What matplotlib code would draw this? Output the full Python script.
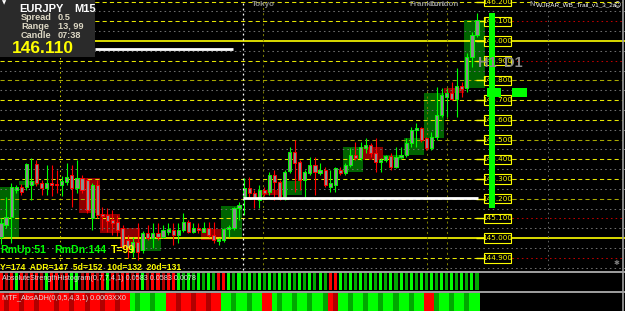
import matplotlib
matplotlib.use("Agg")
import matplotlib.pyplot as plt
from matplotlib.patches import Rectangle

# EURJPY M15 candles
opens = [145.005, 145.066, 145.107, 145.244, 145.259, 145.259, 145.269, 145.376, 145.279, 145.254,
         145.279, 145.274, 145.269, 145.284, 145.320, 145.254, 145.304, 145.294, 145.101, 145.269,
         145.122, 145.117, 145.091, 145.081,
         145.051, 144.990, 144.929, 144.980, 144.939, 145.025, 145.000, 145.025, 145.005, 145.030,
         145.040, 145.015, 145.040, 145.081, 145.030, 145.051, 145.030, 145.051, 145.015, 144.985,
         144.990, 145.045, 145.051, 145.152,
         145.208, 145.254, 145.228, 145.193, 145.244, 145.233, 145.320, 145.284, 145.208, 145.340,
         145.436, 145.386, 145.294, 145.330, 145.370, 145.330, 145.345, 145.259, 145.269, 145.345,
         145.330, 145.370, 145.421,
         145.406, 145.457, 145.472, 145.431, 145.386, 145.396, 145.416, 145.360, 145.411, 145.421,
         145.482, 145.548, 145.558, 145.508, 145.457, 145.513, 145.624, 145.716, 145.736, 145.705,
         145.771, 145.761, 145.919, 146.030]
closes = [145.076, 145.107, 145.259, 145.259, 145.233, 145.376, 145.289, 145.279, 145.254, 145.279,
          145.269, 145.269, 145.289, 145.310, 145.254, 145.304, 145.244, 145.142, 145.269, 145.117,
          145.112, 145.086, 145.076, 145.040,
          144.954, 144.949, 144.980, 144.929, 145.025, 145.000, 145.025, 145.005, 145.040, 145.045,
          145.015, 145.040, 145.081, 145.030, 145.051, 145.040, 145.051, 145.015, 144.990, 144.995,
          145.045, 145.056, 145.152, 145.167,
          145.254, 145.228, 145.208, 145.244, 145.228, 145.320, 145.284, 145.208, 145.335, 145.436,
          145.381, 145.294, 145.335, 145.370, 145.335, 145.345, 145.269, 145.279, 145.355, 145.330,
          145.370, 145.421, 145.406,
          145.462, 145.472, 145.431, 145.386, 145.396, 145.416, 145.360, 145.411, 145.421, 145.482,
          145.548, 145.558, 145.497, 145.457, 145.513, 145.624, 145.726, 145.736, 145.705, 145.771,
          145.756, 145.919, 146.030, 146.106]
highs = [145.101, 145.208, 145.279, 145.269, 145.274, 145.381, 145.406, 145.396, 145.294, 145.370,
         145.370, 145.345, 145.315, 145.381, 145.370, 145.396, 145.320, 145.304, 145.279, 145.294,
         145.157, 145.152, 145.142, 145.117,
         145.066, 145.015, 145.005, 145.076, 145.035, 145.066, 145.076, 145.076, 145.066, 145.076,
         145.076, 145.076, 145.127, 145.091, 145.076, 145.076, 145.081, 145.081, 145.081, 145.000,
         145.051, 145.066, 145.157, 145.183,
         145.304, 145.310, 145.244, 145.269, 145.259, 145.335, 145.345, 145.294, 145.345, 145.462,
         145.497, 145.396, 145.345, 145.411, 145.411, 145.381, 145.360, 145.345, 145.360, 145.360,
         145.381, 145.457, 145.487,
         145.487, 145.508, 145.482, 145.508, 145.406, 145.421, 145.431, 145.462, 145.462, 145.508,
         145.563, 145.584, 145.563, 145.513, 145.538, 145.766, 145.761, 145.761, 145.792, 145.863,
         145.792, 145.939, 146.046, 146.142]
lows = [144.969, 145.051, 144.975, 145.228, 145.218, 145.244, 145.193, 145.264, 145.218, 145.218,
        145.213, 145.228, 145.213, 145.269, 145.157, 145.228, 145.228, 145.127, 145.040, 145.101,
        145.040, 145.030, 145.015, 145.010,
        144.949, 144.898, 144.903, 144.888, 144.924, 144.990, 144.949, 144.990, 145.000, 145.015,
        144.964, 144.975, 145.030, 145.025, 145.025, 145.025, 145.030, 145.005, 144.975, 144.964,
        144.980, 145.005, 145.040, 145.091,
        145.117, 145.203, 145.152, 145.152, 145.213, 145.218, 145.193, 145.193, 145.193, 145.330,
        145.233, 145.244, 145.208, 145.320, 145.218, 145.320, 145.259, 145.233, 145.233, 145.320,
        145.320, 145.360, 145.396,
        145.396, 145.431, 145.411, 145.335, 145.335, 145.386, 145.345, 145.355, 145.406, 145.411,
        145.462, 145.462, 145.487, 145.447, 145.447, 145.497, 145.614, 145.614, 145.700, 145.614,
        145.716, 145.741, 145.868, 146.020]

# H1 boxes behind the candles: first M15 candle, open, close
box_start = [0, 4, 16, 20, 24, 28, 40, 44, 52, 56, 68, 72, 76, 80, 84, 88, 92]
box_open = [145.005, 145.269, 145.304, 145.122, 145.051, 144.934, 145.045, 145.005, 145.244,
            145.218, 145.335, 145.462, 145.396, 145.421, 145.508, 145.761, 145.761]
box_close = [145.259, 145.289, 145.127, 145.025, 144.949, 145.005, 144.990, 145.162, 145.218,
             145.289, 145.462, 145.396, 145.421, 145.508, 145.736, 145.736, 146.106]

# price levels
levels = [146.2, 146.1, 146.0, 145.9, 145.8, 145.7, 145.6, 145.5, 145.4, 145.3, 145.2, 145.1, 145.0, 144.9]
solid_levels = [146.0, 145.0]
olive_levels = [145.8, 145.5, 145.2]
red_levels = [146.1, 145.9, 145.1, 144.9]
half_levels = [146.15, 146.05, 145.95, 145.85, 145.75, 145.65, 145.55, 145.45, 145.35,
               145.25, 145.15, 145.05, 144.95, 144.85]

# white lines (candle index from, to, price)
wl_from = [18.6, 47.8]
wl_to = [45.8, 94.2]
wl_price = [145.960, 145.203]

# green range bar and blocks
bar_low, bar_high = 145.152, 146.142
block_low, block_high = 145.716, 145.761

# histogram colours per candle
hist1 = ("RrRGRrRRrG" "RRrRGGrRRr" "RGRrRRrRGr" "RRrRR"
         "GgGgGgGgRR" "GgGgGgGgGg" "GgGgGgGgGg" "RRGgGgGgGg" "GgGgGgGgGg" "GgGgGgGgGg")
hist2 = ("RrRRrRRrRRRrRRrRRrRRrRRrRR" "GgGGgGG" "RRrRRrRRrRR"
         "GGgGGgGG" "RR" "GgGGgGGgGGg" "Rr" "GGgGGgGGgGGgGGgGG" "RR" "gGGgGGgGG")
hcol = {"G": "#00ff00", "g": "#00a800", "R": "#ff0000", "r": "#b00000"}

W, H = 625, 311
PX = 5.064  # pixels per candle
X0 = 1.0


def px2i(x):
    return (x - X0) / PX


plt.rcParams['font.family'] = ['Liberation Sans', 'DejaVu Sans']
fig = plt.figure(figsize=(W / 100, H / 100), dpi=100, facecolor="black")

ax = fig.add_axes([0, (H - 270) / H, 1, 270 / H])
ax.set_xlim(px2i(0), px2i(W))
ax.set_ylim(144.838, 146.208)
ax.set_axis_off()

n = len(opens)
xs = list(range(n))

# H1 boxes
for s, o, c in zip(box_start, box_open, box_close):
    col = "#006400" if c >= o else "#8b0000"
    ax.add_patch(Rectangle((s - 0.5, min(o, c)), 4, abs(c - o), facecolor=col, edgecolor="none", zorder=1))

# grid levels
for lv in half_levels:
    ax.axhline(lv, color="#6e6e6e", lw=0.75, ls=(0, (1.5, 3)), zorder=2)
for lv in levels:
    if lv in solid_levels:
        ax.axhline(lv, color="#ffff00", lw=1.2, zorder=2)
    else:
        col = "#a8a800" if lv in olive_levels else "#e6e600"
        ax.hlines(lv, px2i(0), px2i(512), color=col, lw=0.75, ls=(0, (4, 3)), zorder=2)
        if lv in red_levels:
            ax.hlines(lv, px2i(512), px2i(622), color="#c00000", lw=0.75, ls=(0, (1.5, 3)), zorder=2)
        else:
            ax.hlines(lv, px2i(512), px2i(622), color=col, lw=0.75, ls=(0, (4, 3)), zorder=2)
    ax.hlines(lv, px2i(476), px2i(484), color="#ffff00", lw=1.0, zorder=2)

# session separators
ax.axvline(px2i(60), color="#c8c800", lw=0.75, ls=(0, (1.5, 3)), zorder=2)
for xv in [263, 427, 447]:
    ax.axvline(px2i(xv), color="#7a7a00", lw=0.75, ls=(0, (2, 3)), zorder=2)
ax.axvline(px2i(548), color="#606060", lw=0.75, ls=(0, (1.5, 3)), zorder=2)

# candles
for i in xs:
    o, h, l, c = opens[i], highs[i], lows[i], closes[i]
    col = "#00ff00" if c >= o else "#ff0000"
    ax.vlines(i, l, h, color=col, lw=0.8, zorder=3)
    body = max(abs(c - o), 0.004)
    ax.bar(i, body, bottom=min(o, c) - (body - abs(c - o)) / 2, width=0.62,
           color="#8c8c8c", edgecolor=col, linewidth=0.7, zorder=4)

# white lines
ax.hlines(wl_price, wl_from, wl_to, color="white", lw=2.0, zorder=5)

# price labels
for lv in levels:
    ax.add_patch(Rectangle((px2i(484), lv - 0.024), 27 / PX, 0.048, facecolor="black",
                           edgecolor="#ffff00", lw=0.8, zorder=6))
    ax.text(px2i(497.5), lv, f"{lv:.3f}", color="#ffff00", fontsize=5.2, ha="center",
            va="center", zorder=7, family="DejaVu Sans")

# green bar and blocks
ax.bar(px2i(492), bar_high - bar_low, bottom=bar_low, width=6 / PX, color="#00ff00", zorder=8)
ax.bar(px2i(494), block_high - block_low, bottom=block_low, width=14 / PX, color="#00ff00", zorder=8)
ax.bar(px2i(519.5), block_high - block_low, bottom=block_low, width=15 / PX, color="#00ff00", zorder=8)

# sub windows
a1 = fig.add_axes([0, (H - 290) / H, 1, 17 / H])
a2 = fig.add_axes([0, 0, 1, 18 / H])
for a, codes, wd in [(a1, hist1, 0.6), (a2, hist2, 1.0)]:
    a.set_xlim(px2i(0), px2i(W))
    a.set_ylim(0, 1)
    a.set_axis_off()
    a.bar(xs, [1] * n, width=wd, color=[hcol[k] for k in codes], linewidth=0)

# overlay in pixel units for texts and frames
ov = fig.add_axes([0, 0, 1, 1], zorder=10)
ov.set_xlim(0, W)
ov.set_ylim(H, 0)
ov.set_axis_off()

ov.axvline(243, ymin=(H - 270) / H, color="white", lw=0.9, ls=(0, (1.5, 2.5)))
ov.axhline(271.5, color="#a0a0a0", lw=1.4)
ov.axhline(291.6, color="#a0a0a0", lw=1.4)
ov.axvline(622.5, color="#a0a0a0", lw=1.2)

# info box
ov.add_patch(Rectangle((0, 0), 95, 57, facecolor="#2a2a2a", edgecolor="none"))
ov.text(1.5, 3, "▼", color="white", fontsize=4, va="center", family="DejaVu Sans")
ov.text(19, 8.5, "EURJPY", color="white", fontsize=8, weight="bold", va="center")
ov.text(74, 8.5, "M15", color="white", fontsize=8, weight="bold", va="center")
beige = "#ddd8c4"
for yy, lab, val in [(17.5, "Spread", "0.5"), (26.5, "Range", "13, 99"), (35.5, "Candle", "07:38")]:
    ov.text(21, yy, lab, color=beige, fontsize=6.6, weight="bold", va="center")
    ov.text(58, yy, val, color=beige, fontsize=6.6, weight="bold", va="center")
ov.text(12, 48.5, "146.110", color="#ffff00", fontsize=12.5, weight="bold", va="center")

# top labels
ov.text(252, 5, "Tokyo", color="#8a8a8a", fontsize=5.8, weight="bold", va="center")
ov.text(409, 5, "Frankfurt", color="#8a8a8a", fontsize=5.8, weight="bold", va="center")
ov.text(430, 5, "London", color="#8a8a8a", fontsize=5.8, weight="bold", va="center")
ov.text(530, 5, "N", color="#8a8a8a", fontsize=5.5, weight="bold", va="center")
ov.text(536, 5, "WURAR_WB_Trail_v1_3_2a", color="white", fontsize=4.6, va="center")
ov.text(617, 5, "☺", color="white", fontsize=5.0, ha="center", va="center", family="DejaVu Sans")

ov.text(487, 63, "H1", color="#8a8a8a", fontsize=10.5, weight="bold", ha="center", va="center")
ov.text(513, 63, "D1", color="#8a8a8a", fontsize=10.5, weight="bold", ha="center", va="center")

# bottom texts in the main window
ov.text(0, 250, "RmUp:51", color="#00ff00", fontsize=7.6, weight="bold", va="center")
ov.text(54, 250, "RmDn:144", color="#00ff00", fontsize=7.6, weight="bold", va="center")
ov.text(111, 250, "T=99", color="#ffff00", fontsize=7.6, weight="bold", va="center")
ov.text(0, 267, "Y=174  ADR=147  5d=152  10d=132  20d=131", color="#ffff00", fontsize=6.2,
        weight="bold", va="center")
ov.text(617, 263, "✱", color="#808080", fontsize=5, ha="center", va="center", family="DejaVu Sans")

ov.text(2, 279, "AbsoluteStrengthHistogram(0,7,7,4,1) 0.0583 0.0583 0.0078", color="#e0e0e0",
        fontsize=5.2, va="center")
ov.text(2, 299, "MTF_AbsADH(0,0,5,4,3,1) 0.0003XX0", color="#e0e0e0", fontsize=5.2, va="center")

fig.savefig("out.png", dpi=100, facecolor="black")
